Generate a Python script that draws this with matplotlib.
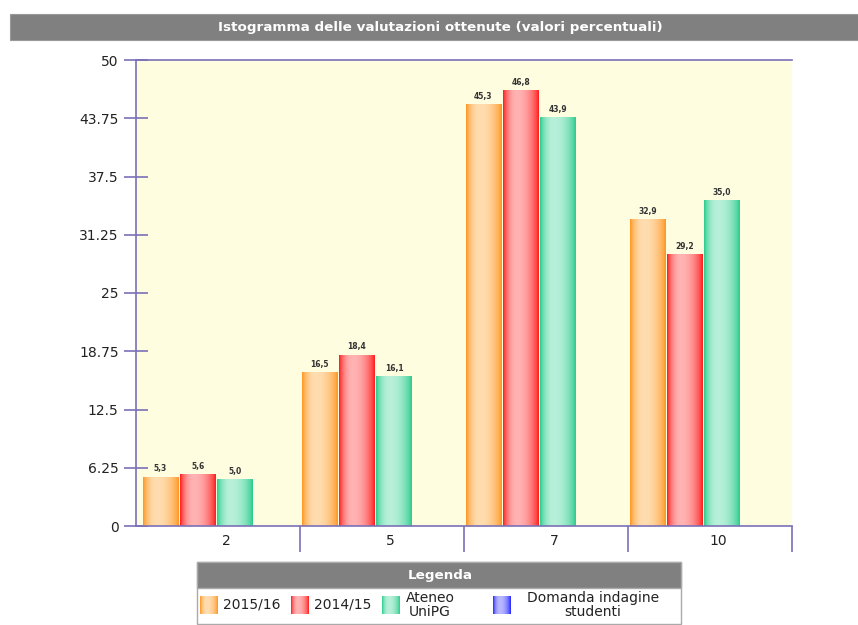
import numpy as np
import matplotlib
matplotlib.use("Agg")
import matplotlib.pyplot as plt
from matplotlib.colors import to_rgb
from matplotlib.patches import Rectangle

# data
categories = ["2", "5", "7", "10"]
v_2015 = [5.3, 16.5, 45.3, 32.9]
v_2014 = [5.6, 18.4, 46.8, 29.2]
v_ateneo = [5.0, 16.1, 43.9, 35.0]
legend_labels = ["2015/16", "2014/15", "Ateneo\nUniPG", "Domanda indagine\nstudenti"]
yticks = [0, 6.25, 12.5, 18.75, 25, 31.25, 37.5, 43.75, 50]
ytick_labels = ["0", "6.25", "12.5", "18.75", "25", "31.25", "37.5", "43.75", "50"]
title = "Istogramma delle valutazioni ottenute (valori percentuali)"

# (edge colour, light colour) for the cylinder-like gradient
gradients = [("#ff9520", "#ffddb0"), ("#ff1a1a", "#ffb3b3"),
             ("#28cc8a", "#b8f0da"), ("#2020ff", "#b8b8ff")]
axis_col = "#7a70b8"


def grad_img(edge, light, n=64):
    t = np.linspace(0, 1, n)
    peak = 0.38
    d = np.where(t < peak, (t - peak) / peak, (t - peak) / (1 - peak))
    f = np.clip(1 - d ** 2, 0, 1) ** 0.8
    e = np.array(to_rgb(edge))
    l = np.array(to_rgb(light))
    row = e[None, :] * (1 - f[:, None]) + l[None, :] * f[:, None]
    return row[None, :, :]


fig = plt.figure(figsize=(8.58, 6.25), dpi=100)
W, H = 858, 625
ax = fig.add_axes([136 / W, 1 - 526 / H, (792 - 136) / W, (526 - 60) / H])
ax.set_facecolor("#fffde0")

bw = 0.217
step = 0.228
values = [v_2015, v_2014, v_ateneo]
for k, vals in enumerate(values):
    xs = np.arange(len(categories)) + 0.01 + k * step
    xs[0] += 0.03
    bars = ax.bar(xs, vals, width=bw, align="edge", color="none",
                  edgecolor="none", zorder=2)
    for b, v in zip(bars, vals):
        x0 = b.get_x()
        im = ax.imshow(grad_img(*gradients[k]), extent=[x0, x0 + bw, 0, v],
                       aspect="auto", zorder=2, interpolation="bilinear")
        im.set_clip_path(b)
        ax.text(x0 + bw / 2, v + 0.35, f"{v:.1f}".replace(".", ","),
                ha="center", va="bottom", fontsize=5.5, fontweight="bold",
                color="#333333", zorder=3)

ax.set_xlim(0, len(categories))
ax.set_ylim(0, 50)
ax.set_yticks(yticks)
ax.set_yticklabels(ytick_labels, fontsize=10, color="#222222")
ax.tick_params(axis="y", direction="inout", length=17, width=1.2,
               color=axis_col, pad=4)
ax.set_xticks(np.arange(1, len(categories) + 1))
ax.set_xticklabels([])
ax.tick_params(axis="x", direction="out", length=19, width=1.2, color=axis_col)
for i, c in enumerate(categories):
    ax.text(i + 0.55, -0.9, c, ha="center", va="top", fontsize=10,
            color="#222222", transform=ax.transData, clip_on=False)
for s in ["left", "bottom", "top"]:
    ax.spines[s].set_color(axis_col)
    ax.spines[s].set_linewidth(1.2)
ax.spines["right"].set_visible(False)

# overlay in pixel coordinates for title bar and legend
ov = fig.add_axes([0, 0, 1, 1], zorder=-1)
ov.set_xlim(0, W)
ov.set_ylim(H, 0)
ov.axis("off")
ov.add_patch(Rectangle((10, 14), W - 10, 26, facecolor="#808080",
                       edgecolor="#999999", lw=0.8))
ov.text(440, 27.5, title, ha="center", va="center", color="white",
        fontsize=9.7, fontweight="bold")

lg = fig.add_axes([0, 0, 1, 1])
lg.axis("off")
lg.patch.set_alpha(0)
lg.add_patch(Rectangle((197, 562), 484, 62, facecolor="white",
                       edgecolor="#aaaaaa", lw=1, zorder=1))
lg.add_patch(Rectangle((197, 562), 484, 26, facecolor="#808080",
                       edgecolor="#aaaaaa", lw=1, zorder=1))
lg.text(440, 576, "Legenda", ha="center", va="center", color="white",
        fontsize=9.7, fontweight="bold")
patch_x = [200, 291, 382, 493]
text_x = [252, 343, 430, 593]
for k, lab in enumerate(legend_labels):
    lg.imshow(grad_img(*gradients[k]), extent=[patch_x[k], patch_x[k] + 18, 614, 596],
              aspect="auto", interpolation="bilinear", zorder=3)
    lg.text(text_x[k], 605, lab, ha="center", va="center", fontsize=10,
            color="#222222", linespacing=1.0, zorder=3)
lg.set_xlim(0, W)
lg.set_ylim(H, 0)

fig.savefig("out.png", dpi=100)
